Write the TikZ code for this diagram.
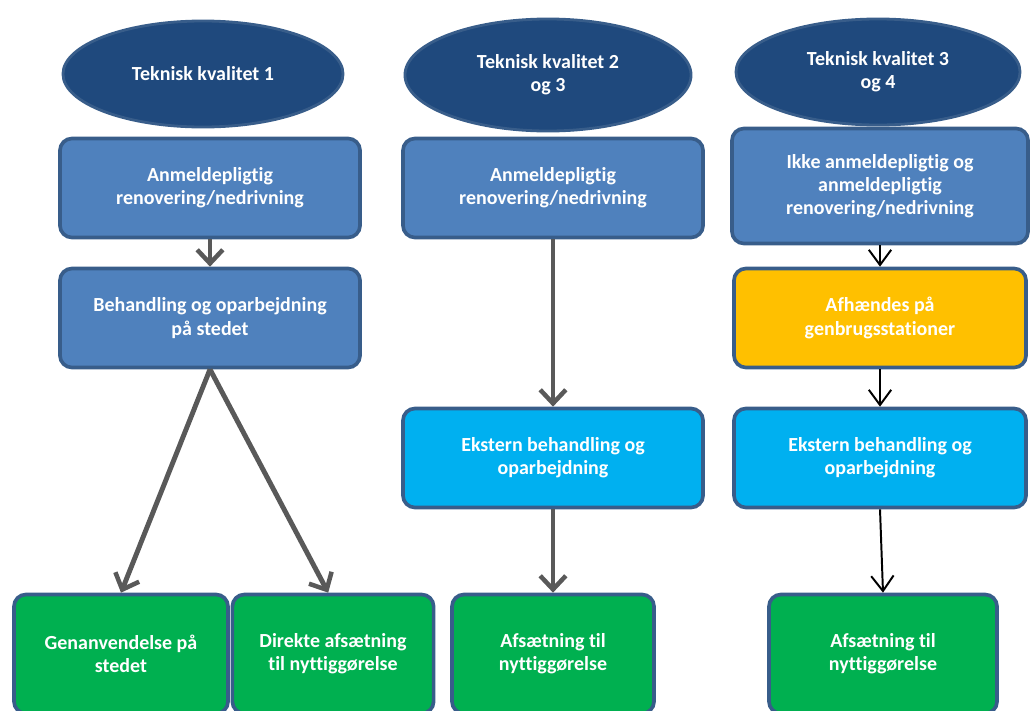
\documentclass[tikz,border=0pt]{standalone}
\usepackage{fontspec}
\setmainfont{Carlito}[Ligatures=NoCommon]
\usetikzlibrary{shapes.geometric,arrows.meta}

\definecolor{mork}{HTML}{1F497D}
\definecolor{kant}{HTML}{385D8A}
\definecolor{mellem}{HTML}{4F81BD}
\definecolor{lys}{HTML}{00B0F0}
\definecolor{gul}{HTML}{FFC000}
\definecolor{gron}{HTML}{00B050}
\definecolor{pil}{HTML}{595959}

\begin{document}
\begin{tikzpicture}[x=0.025cm,y=-0.025cm,
    txt/.style={text=white,font=\bfseries\fontsize{14.2}{16.5}\selectfont,align=center,inner sep=0pt},
    kval/.style={txt,ellipse,fill=mork,draw=kant,line width=2pt},
    boks/.style={txt,rectangle,rounded corners=0.3cm,draw=kant,line width=2.6pt,minimum width=7.5cm,minimum height=2.475cm},
    tyk/.style={-{Straight Barb[length=3.4mm,width=6.4mm,line width=3.2pt]},line width=3.5pt,pil},
    tynd/.style={-{Straight Barb[length=3.8mm,width=5.6mm,line width=1.4pt]},line width=1.4pt,black}]

  % ramme
  \useasboundingbox (0,0) rectangle (1030,710);

  % ellipser
  \node[kval,minimum width=7cm,minimum height=2.65cm] (e1) at (203,74) {Teknisk kvalitet 1};
  \node[kval,minimum width=7.15cm,minimum height=2.8cm] (e2) at (548,75) {Teknisk kvalitet 2\\og 3};
  \node[kval,minimum width=7.1cm,minimum height=2.65cm] (e3) at (878,72) {Teknisk kvalitet 3\\og 4};

  % kolonne 1
  \node[boks,fill=mellem] (b1) at (210,188) {Anmeldepligtig\\renovering/nedrivning};
  \node[boks,fill=mellem] (b2) at (210,318) {Behandling og oparbejdning\\på stedet};
  \node[boks,fill=gron,minimum width=5.35cm,minimum height=2.975cm] (g1) at (121,654) {Genanvendelse på\\stedet};
  \node[boks,fill=gron,minimum width=5.03cm,minimum height=2.975cm] (g2) at (333,654) {Direkte afsætning\\til nyttiggørelse};

  % kolonne 2
  \node[boks,fill=mellem] (b3) at (553,188) {Anmeldepligtig\\renovering/nedrivning};
  \node[boks,fill=lys] (b4) at (553,458) {Ekstern behandling og\\oparbejdning};
  \node[boks,fill=gron,minimum width=5.05cm,minimum height=2.975cm] (g3) at (553,654) {Afsætning til\\nyttiggørelse};

  % kolonne 3
  \node[boks,fill=mellem,minimum width=7.4cm,minimum height=2.875cm] (b5) at (880,186) {Ikke anmeldepligtig og\\anmeldepligtig\\renovering/nedrivning};
  \node[boks,fill=gul,minimum width=7.3cm] (b6) at (880,318) {Afhændes på\\genbrugsstationer};
  \node[boks,fill=lys,minimum width=7.3cm] (b7) at (880,458) {Ekstern behandling og\\oparbejdning};
  \node[boks,fill=gron,minimum width=5.7cm,minimum height=2.975cm] (g4) at (883,654) {Afsætning til\\nyttiggørelse};

  % pile
  \draw[tyk] (b1) -- (b2);
  \draw[tyk] (b2.south) -- (g1.north);
  \draw[tyk] (b2.south) -- ([xshift=-0.12cm]g2.north);
  \draw[tyk] (b3) -- (b4);
  \draw[tyk] (b4) -- (g3);
  \draw[tynd] (b5) -- (b6);
  \draw[tynd] (b6) -- (b7);
  \draw[tynd] (b7.south) -- (g4.north);

\end{tikzpicture}
\end{document}
